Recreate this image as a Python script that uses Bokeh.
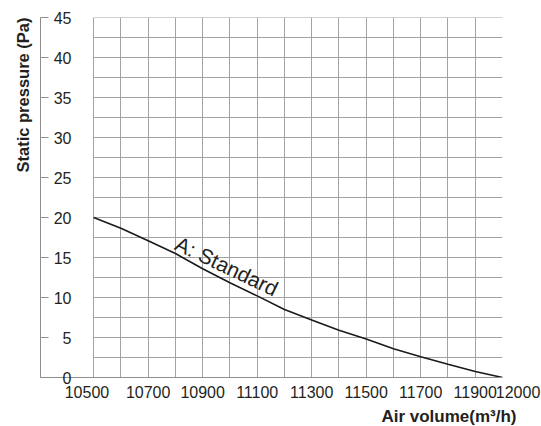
from bokeh.plotting import figure
from bokeh.models import FixedTicker, Range1d, Title, Label
from bokeh.embed import file_html
from bokeh.resources import INLINE

# ---- data ----
air_volume = [10500, 10600, 10700, 10800, 10900, 11000, 11100, 11200,
              11300, 11400, 11500, 11600, 11700, 11800, 11900, 12000]
static_pressure = [20.0, 18.65, 17.1, 15.5, 13.6, 11.85, 10.2, 8.5,
                   7.2, 5.9, 4.8, 3.6, 2.6, 1.65, 0.75, 0.0]
series_name = "A: Standard"

x_tick_values = [10500, 10700, 10900, 11100, 11300, 11500, 11700, 11900, 12000]
x_tick_labels = ["10500", "10700", "10900", "11100", "11300", "11500", "11700", "11900", "12000"]
y_tick_values = [0, 5, 10, 15, 20, 25, 30, 35, 40, 45]
y_tick_labels = ["0", "5", "10", "15", "20", "25", "30", "35", "40", "45"]
x_grid_values = [10500, 10600, 10700, 10800, 10900, 11000, 11100, 11200,
                 11300, 11400, 11500, 11600, 11700, 11800, 11900, 12000]
y_grid_values = [2.5, 5, 7.5, 10, 12.5, 15, 17.5, 20, 22.5, 25, 27.5, 30,
                 32.5, 35, 37.5, 40, 42.5, 45]
x_title = "Air volume(m³/h)"
y_title = "Static pressure (Pa)"

FONT = "Liberation Sans"
TXT = "#231f20"
GRID = "#a2a2a2"
FIG_SP = "\u2007"   # figure space (digit width)
PUNC_SP = "\u2008"  # punctuation space

p = figure(width=541, height=426,
           x_range=Range1d(10305, 12000), y_range=Range1d(0, 45),
           output_backend="svg", toolbar_location=None,
           min_border_left=40, min_border_right=39,
           min_border_top=17, min_border_bottom=47)
p.outline_line_color = None
p.background_fill_color = "white"
p.border_fill_color = "white"

# grid
p.xgrid.ticker = FixedTicker(ticks=x_grid_values)
p.xgrid.grid_line_color = GRID
p.xgrid.grid_line_width = 1
p.ygrid.visible = False
p.segment(x0=[x_grid_values[0]] * len(y_grid_values), y0=y_grid_values,
          x1=[x_grid_values[-1]] * len(y_grid_values), y1=y_grid_values,
          line_color=GRID, line_width=1)

# x axis (end labels nudged apart, as in the original)
xa = p.xaxis[0]
xa.ticker = FixedTicker(ticks=x_tick_values)
overrides = {v: l for v, l in zip(x_tick_values, x_tick_labels)}
overrides[x_tick_values[0]] = x_tick_labels[0] + FIG_SP + PUNC_SP
overrides[x_tick_values[-1]] = FIG_SP * 3 + PUNC_SP + x_tick_labels[-1]
xa.major_label_overrides = overrides
xa.major_tick_in = 0
xa.major_tick_out = 0
xa.minor_tick_in = 0
xa.minor_tick_out = 0
xa.axis_line_color = "#8f8f8f"
xa.major_label_standoff = 6
xa.major_label_text_font = FONT
xa.major_label_text_font_size = "16px"
xa.major_label_text_color = TXT

# y axis (labels sit inside the axis line)
ya = p.yaxis[0]
ya.ticker = FixedTicker(ticks=y_tick_values)
ya.major_label_overrides = {v: l for v, l in zip(y_tick_values, y_tick_labels)}
ya.major_tick_in = 8
ya.major_tick_out = 0
ya.minor_tick_in = 0
ya.minor_tick_out = 0
ya.axis_line_color = "#8f8f8f"
ya.major_tick_line_color = "#8f8f8f"
ya.major_label_standoff = -31
ya.major_label_text_font = FONT
ya.major_label_text_font_size = "16px"
ya.major_label_text_color = TXT

# curve
p.line(air_volume, static_pressure, line_color="#1a1a1a", line_width=1.6)
p.add_layout(Label(x=10805, y=16.9, text=series_name, angle=-25.5, angle_units="deg",
                   text_align="left", text_baseline="alphabetic", text_font=FONT,
                   text_font_size="21px", text_color=TXT))

# titles
p.add_layout(Title(text=y_title, align="right", offset=0, standoff=18, text_font=FONT,
                   text_font_size="16.5px", text_font_style="bold", text_color=TXT), "left")
p.add_layout(Title(text=x_title, align="right", offset=-14, standoff=2, text_font=FONT,
                   text_font_size="17px", text_font_style="bold", text_color=TXT), "below")

open("out.html", "w").write(file_html(p, INLINE))
